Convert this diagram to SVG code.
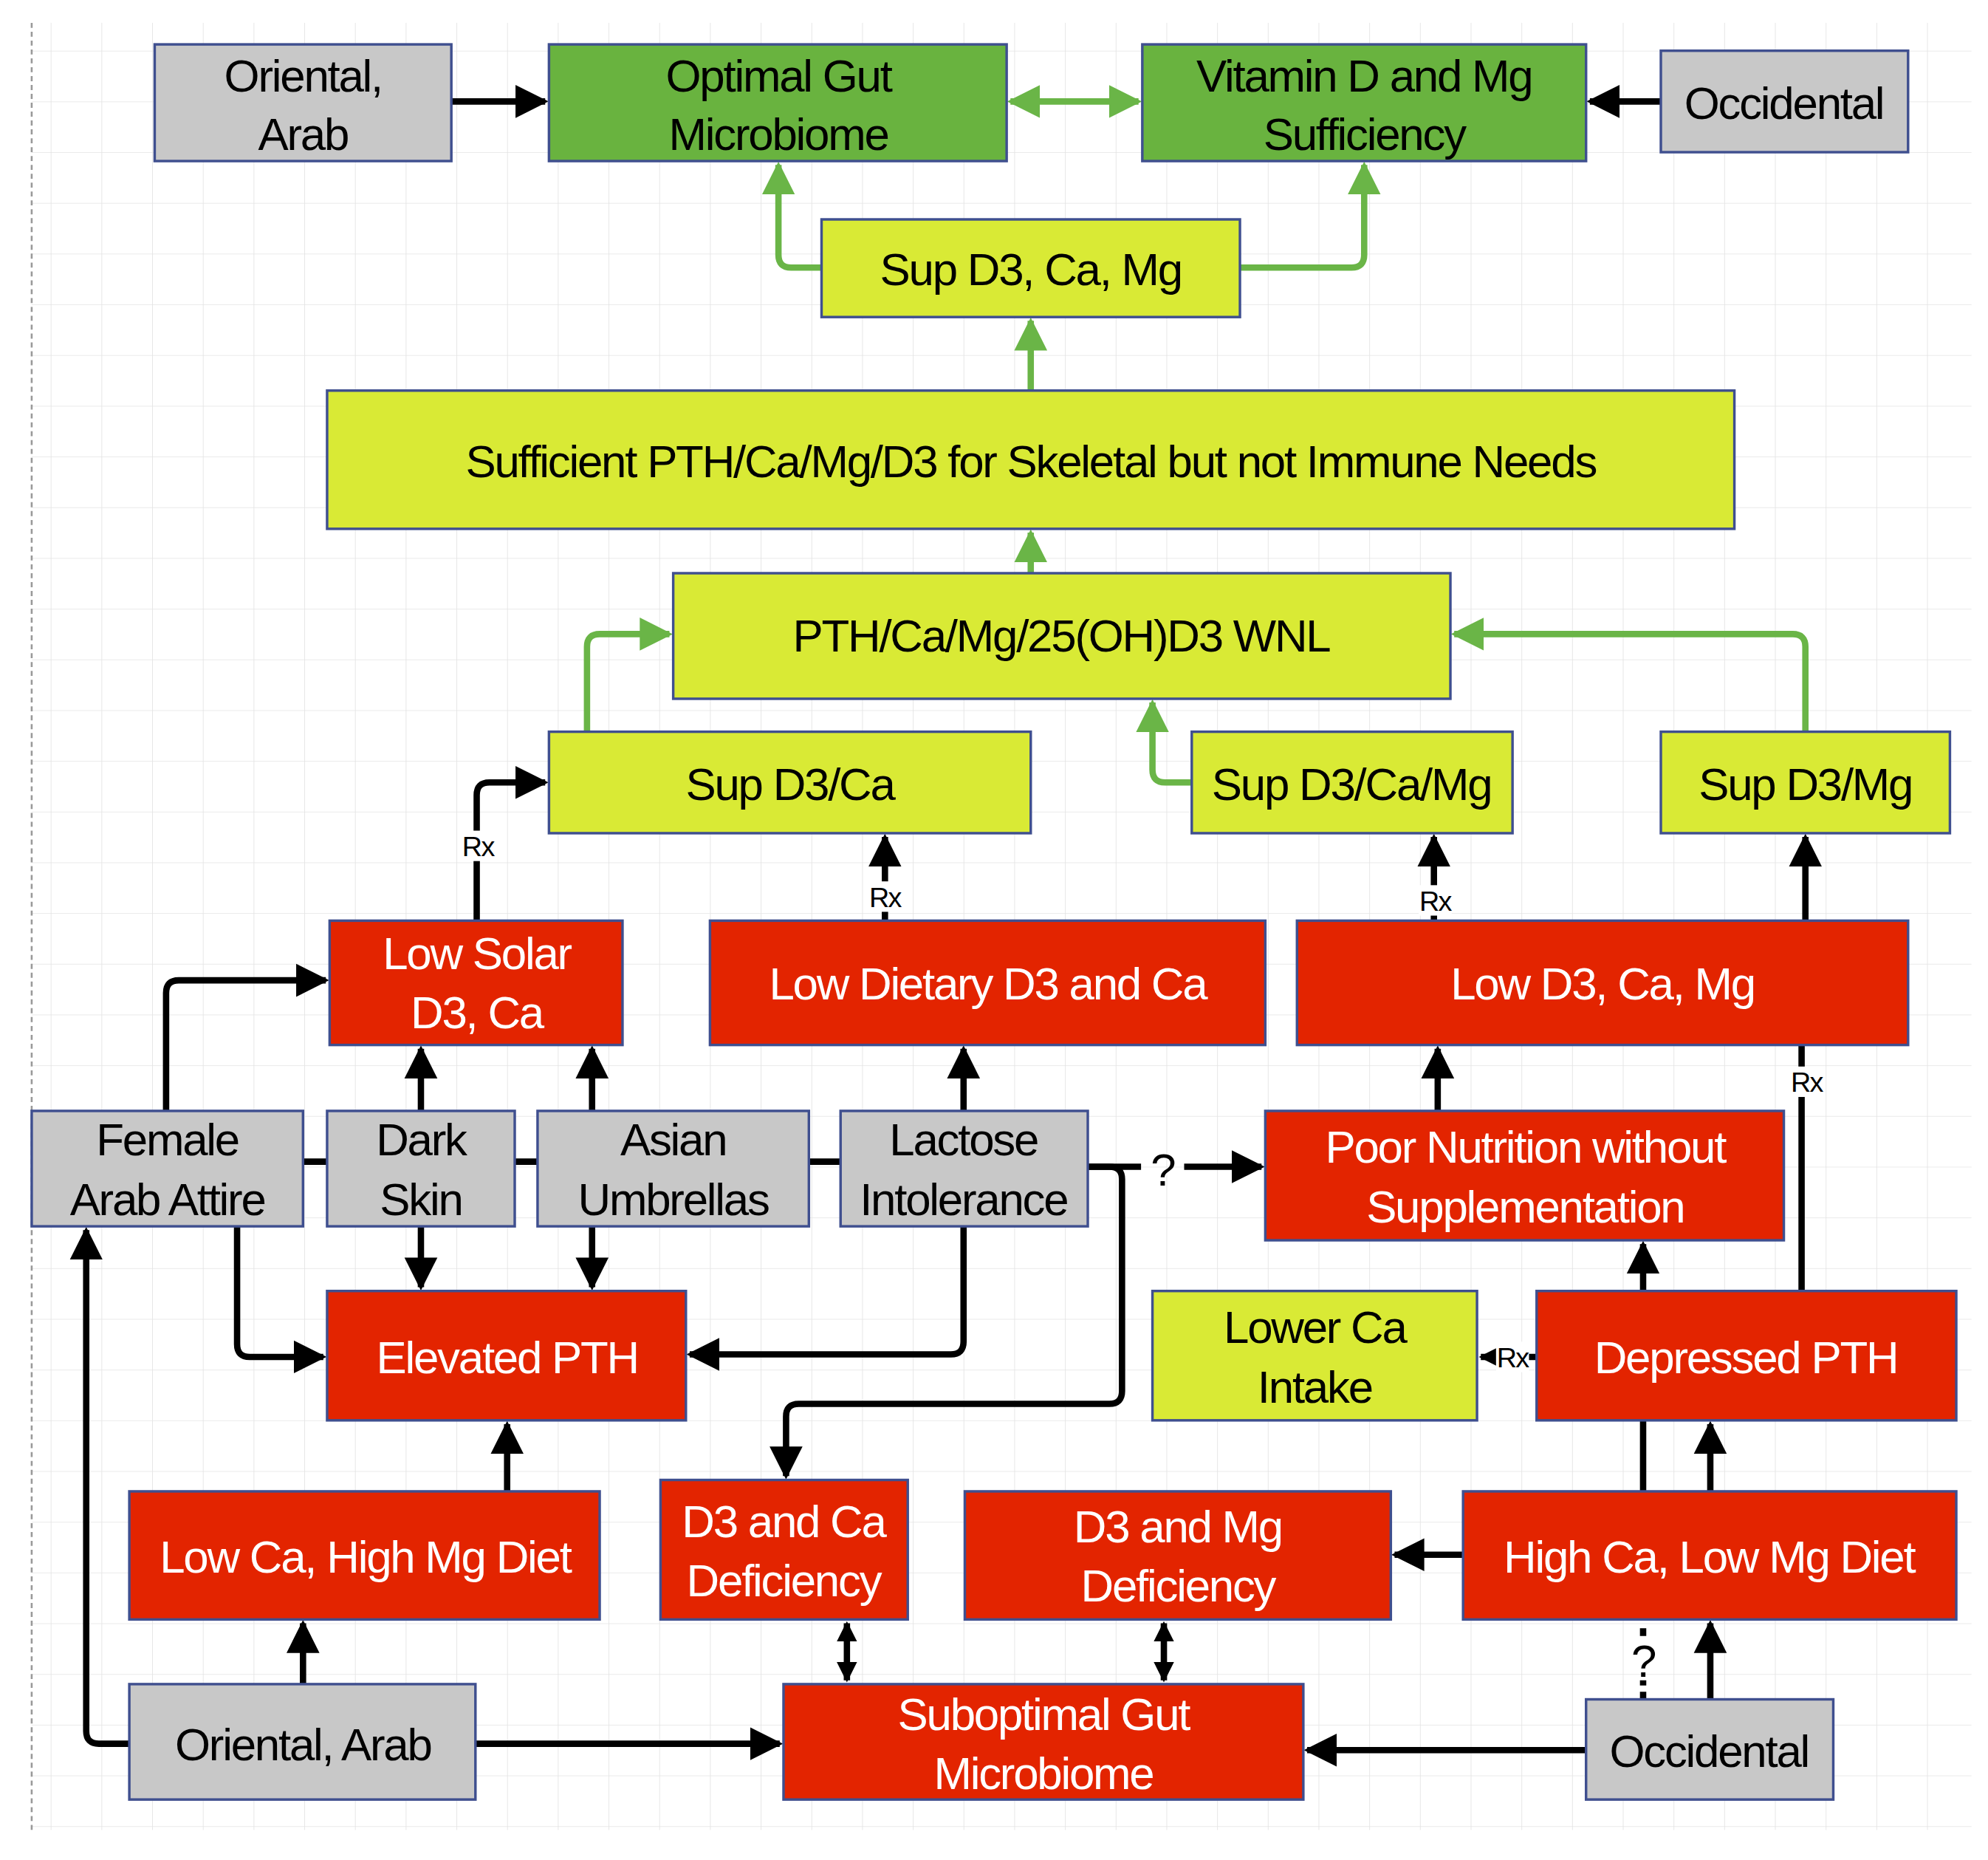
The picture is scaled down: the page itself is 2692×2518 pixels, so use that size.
<svg xmlns="http://www.w3.org/2000/svg" width="2692" height="2518" viewBox="0 0 2692 2518">
<defs>
<style>
.g{fill:#c8c8c8;stroke:#3f4f8f;stroke-width:2}
.dg{fill:#69b33f;stroke:#3f4f8f;stroke-width:2}
.y{fill:#d9ea35;stroke:#3f4f8f;stroke-width:2}
.r{fill:#e32400;stroke:#3f4f8f;stroke-width:2}
text{font-family:"Liberation Sans",Arial,sans-serif;font-size:36px;letter-spacing:-1.3px;text-anchor:middle}
.w{fill:#ffffff}
.k{fill:#000000}
.rx{font-size:22px;fill:#000;letter-spacing:-1px}
.bl{fill:none;stroke:#000;stroke-width:5;stroke-linejoin:round}
.gr{fill:none;stroke:#6ab547;stroke-width:5;stroke-linejoin:round}
.bg{fill:#fff}
</style>
<marker id="ab" viewBox="0 0 10 10" refX="9" refY="5" markerUnits="userSpaceOnUse" markerWidth="26" markerHeight="30" orient="auto-start-reverse"><path d="M0,0 L10,5 L0,10 z" fill="#000"/></marker>
<marker id="as" viewBox="0 0 10 10" refX="9" refY="5" markerUnits="userSpaceOnUse" markerWidth="16" markerHeight="22" orient="auto-start-reverse"><path d="M0,0 L10,5 L0,10 z" fill="#000"/></marker>
<marker id="ag" viewBox="0 0 10 10" refX="9" refY="5" markerUnits="userSpaceOnUse" markerWidth="26" markerHeight="30" orient="auto-start-reverse"><path d="M0,0 L10,5 L0,10 z" fill="#6ab547"/></marker>
<pattern id="grid" width="40" height="40" patternUnits="userSpaceOnUse"><path d="M40 0 L0 0 0 40" fill="none" stroke="#e4e4e4" stroke-width="1"/></pattern>
</defs>
<rect width="2692" height="2518" fill="#fff"/>
<g transform="scale(1.7168)">
<rect x="25" y="18" width="1530" height="1425" fill="url(#grid)"/>
<line x1="25" y1="18" x2="25" y2="1443" stroke="#999" stroke-width="1.5" stroke-dasharray="4 3"/>

<g id="connectors">
<path class="bl" d="M356,80 H430" marker-end="url(#ab)"/>
<path class="gr" d="M797,80 H898" marker-start="url(#ag)" marker-end="url(#ag)"/>
<path class="bl" d="M1310,80 H1254" marker-end="url(#ab)"/>
<path class="gr" d="M648,211 H624 Q614,211 614,201 V130" marker-end="url(#ag)"/>
<path class="gr" d="M978,211 H1066 Q1076,211 1076,201 V130" marker-end="url(#ag)"/>
<path class="gr" d="M813,308 V253" marker-end="url(#ag)"/>
<path class="gr" d="M813,452 V420" marker-end="url(#ag)"/>
<path class="gr" d="M463,577 V510 Q463,500 473,500 H528" marker-end="url(#ag)"/>
<path class="gr" d="M940,617 H919 Q909,617 909,607 V554" marker-end="url(#ag)"/>
<path class="gr" d="M1424,577 V510 Q1424,500 1414,500 H1147" marker-end="url(#ag)"/>
<path class="bl" d="M376,726 V627 Q376,617 386,617 H430" marker-end="url(#ab)"/>
<path class="bl" d="M698,726 V660" marker-end="url(#ab)"/>
<path class="bl" d="M1131,726 V660" marker-end="url(#ab)"/>
<path class="bl" d="M1424,726 V660" marker-end="url(#ab)"/>
<path class="bl" d="M131,876 V783 Q131,773 141,773 H257" marker-end="url(#ab)"/>
<path class="bl" d="M332,876 V827" marker-end="url(#ab)"/>
<path class="bl" d="M467,876 V827" marker-end="url(#ab)"/>
<path class="bl" d="M760,876 V827" marker-end="url(#ab)"/>
<path class="bl" d="M239,916 H258 M406,916 H424 M638,916 H663"/>
<path class="bl" d="M858,920 H900 M934,920 H995" marker-end="url(#ab)"/>
<path class="bl" d="M858,920 H875 Q885,920 885,930 V1097 Q885,1107 875,1107 H630 Q620,1107 620,1117 V1164" marker-end="url(#ab)"/>
<path class="bl" d="M187,967 V1060 Q187,1070 197,1070 H255" marker-end="url(#ab)"/>
<path class="bl" d="M332,967 V1015" marker-end="url(#ab)"/>
<path class="bl" d="M467,967 V1015" marker-end="url(#ab)"/>
<path class="bl" d="M760,967 V1058 Q760,1068 750,1068 H544" marker-end="url(#ab)"/>
<path class="bl" d="M1134,876 V827" marker-end="url(#ab)"/>
<path class="bl" d="M1296,1018 V981" marker-end="url(#ab)"/>
<path class="bl" d="M1421,1018 V824"/>
<path class="bl" d="M1212,1070 H1168" stroke-width="3" marker-end="url(#as)"/>
<path class="bl" d="M1349,1176 V1123" marker-end="url(#ab)"/>
<path class="bl" d="M1296,1176 V1120"/>
<path class="bl" d="M1154,1226 H1100" marker-end="url(#ab)"/>
<path class="bl" d="M400,1176 V1123" marker-end="url(#ab)"/>
<path class="bl" d="M239,1328 V1280" marker-end="url(#ab)"/>
<path class="bl" d="M102,1375 H78 Q68,1375 68,1365 V970" marker-end="url(#ab)"/>
<path class="bl" d="M375,1375 H615" marker-end="url(#ab)"/>
<path class="bl" d="M1251,1380 H1031" marker-end="url(#ab)"/>
<path class="bl" d="M1349,1340 V1280" marker-end="url(#ab)"/>
<path class="bl" d="M1296,1340 V1325 M1296,1290 V1280" stroke-dasharray="6 5"/>
<path class="bl" d="M668,1280 V1325" stroke-width="4" marker-start="url(#as)" marker-end="url(#as)"/>
<path class="bl" d="M918,1280 V1325" stroke-width="4" marker-start="url(#as)" marker-end="url(#as)"/>
<rect class="bg" x="364" y="655" width="26" height="24"/>
<rect class="bg" x="685" y="695" width="26" height="24"/>
<rect class="bg" x="1119" y="698" width="26" height="24"/>
<rect class="bg" x="1412" y="841" width="26" height="24"/>
<rect class="bg" x="1180" y="1058" width="26" height="24"/>
<text class="rx" x="377" y="675">Rx</text>
<text class="rx" x="698" y="715">Rx</text>
<text class="rx" x="1132" y="718">Rx</text>
<text class="rx" x="1425" y="861">Rx</text>
<text class="rx" x="1193" y="1078">Rx</text>
<text class="k" x="917" y="935">?</text>
<text class="k" x="1296" y="1322">?</text>
</g>

<g id="n1"><rect class="g" x="122" y="35" width="234" height="92"/><text class="k" x="239" y="72">Oriental,</text><text class="k" x="239" y="118">Arab</text></g>
<g id="n2"><rect class="dg" x="433" y="35" width="361" height="92"/><text class="k" x="614" y="72">Optimal Gut</text><text class="k" x="614" y="118">Microbiome</text></g>
<g id="n3"><rect class="dg" x="901" y="35" width="350" height="92"/><text class="k" x="1076" y="72">Vitamin D  and Mg</text><text class="k" x="1076" y="118">Sufficiency</text></g>
<g id="n4"><rect class="g" x="1310" y="40" width="195" height="80"/><text class="k" x="1407" y="94">Occidental</text></g>
<g id="n5"><rect class="y" x="648" y="173" width="330" height="77"/><text class="k" x="813" y="225">Sup D3, Ca, Mg</text></g>
<g id="n6"><rect class="y" x="258" y="308" width="1110" height="109"/><text class="k" x="813" y="376">Sufficient PTH/Ca/Mg/D3 for Skeletal but not Immune Needs</text></g>
<g id="n7"><rect class="y" x="531" y="452" width="613" height="99"/><text class="k" x="837" y="514">PTH/Ca/Mg/25(OH)D3 WNL</text></g>
<g id="n8"><rect class="y" x="433" y="577" width="380" height="80"/><text class="k" x="623" y="631">Sup D3/Ca</text></g>
<g id="n9"><rect class="y" x="940" y="577" width="253" height="80"/><text class="k" x="1066" y="631">Sup D3/Ca/Mg</text></g>
<g id="n10"><rect class="y" x="1310" y="577" width="228" height="80"/><text class="k" x="1424" y="631">Sup D3/Mg</text></g>
<g id="n11"><rect class="r" x="260" y="726" width="231" height="98"/><text class="w" x="376" y="764">Low Solar</text><text class="w" x="376" y="811">D3, Ca</text></g>
<g id="n12"><rect class="r" x="560" y="726" width="438" height="98"/><text class="w" x="779" y="788">Low Dietary D3 and Ca</text></g>
<g id="n13"><rect class="r" x="1023" y="726" width="482" height="98"/><text class="w" x="1264" y="788">Low D3, Ca, Mg</text></g>
<g id="n14"><rect class="g" x="25" y="876" width="214" height="91"/><text class="k" x="132" y="911">Female</text><text class="k" x="132" y="958">Arab Attire</text></g>
<g id="n15"><rect class="g" x="258" y="876" width="148" height="91"/><text class="k" x="332" y="911">Dark</text><text class="k" x="332" y="958">Skin</text></g>
<g id="n16"><rect class="g" x="424" y="876" width="214" height="91"/><text class="k" x="531" y="911">Asian</text><text class="k" x="531" y="958">Umbrellas</text></g>
<g id="n17"><rect class="g" x="663" y="876" width="195" height="91"/><text class="k" x="760" y="911">Lactose</text><text class="k" x="760" y="958">Intolerance</text></g>
<g id="n18"><rect class="r" x="998" y="876" width="409" height="102"/><text class="w" x="1203" y="917">Poor Nutrition without</text><text class="w" x="1203" y="964">Supplementation</text></g>
<g id="n19"><rect class="r" x="258" y="1018" width="283" height="102"/><text class="w" x="400" y="1083">Elevated PTH</text></g>
<g id="n20"><rect class="y" x="909" y="1018" width="256" height="102"/><text class="k" x="1037" y="1059">Lower Ca</text><text class="k" x="1037" y="1106">Intake</text></g>
<g id="n21"><rect class="r" x="1212" y="1018" width="331" height="102"/><text class="w" x="1377" y="1083">Depressed PTH</text></g>
<g id="n22"><rect class="r" x="102" y="1176" width="371" height="101"/><text class="w" x="288" y="1240">Low Ca, High Mg Diet</text></g>
<g id="n23"><rect class="r" x="521" y="1167" width="195" height="110"/><text class="w" x="618" y="1212">D3 and Ca</text><text class="w" x="618" y="1259">Deficiency</text></g>
<g id="n24"><rect class="r" x="761" y="1176" width="336" height="101"/><text class="w" x="929" y="1216">D3 and Mg</text><text class="w" x="929" y="1263">Deficiency</text></g>
<g id="n25"><rect class="r" x="1154" y="1176" width="389" height="101"/><text class="w" x="1348" y="1240">High Ca, Low Mg Diet</text></g>
<g id="n26"><rect class="g" x="102" y="1328" width="273" height="91"/><text class="k" x="239" y="1388">Oriental, Arab</text></g>
<g id="n27"><rect class="r" x="618" y="1328" width="410" height="91"/><text class="w" x="823" y="1364">Suboptimal Gut</text><text class="w" x="823" y="1411">Microbiome</text></g>
<g id="n28"><rect class="g" x="1251" y="1340" width="195" height="79"/><text class="k" x="1348" y="1393">Occidental</text></g>
</g>
</svg>
